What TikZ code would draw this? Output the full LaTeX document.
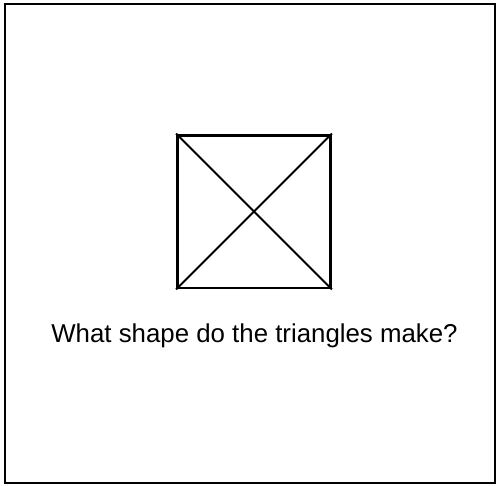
\documentclass[tikz,border=0pt]{standalone}
\usepackage{fontspec}
\setmainfont{Liberation Sans}
\usetikzlibrary{positioning}

\begin{document}
\begin{tikzpicture}[x=0.02cm,y=-0.02cm,
frame/.style={draw=black,line width=1pt},
box/.style={draw=black,line width=1.7pt,minimum size=3.06cm,inner sep=0pt},
diag/.style={draw=black,line width=1.1pt},
question/.style={font=\fontsize{14.7}{17}\selectfont,inner sep=0pt,anchor=base}]
\useasboundingbox (0,0) rectangle (500,485);
\draw[frame] (4.8,3.8) rectangle (495.2,483);
\node[box] (sq) at (254,211.5) {};
\node[question] (ask) at (254.5,342) {What shape do the triangles make?};
\draw[diag] (sq.north west) -- (sq.south east);
\draw[diag] (sq.north east) -- (sq.south west);
\end{tikzpicture}
\end{document}
